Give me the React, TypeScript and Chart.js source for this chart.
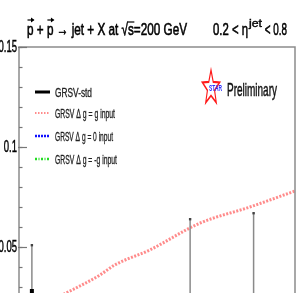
import React, { useEffect, useRef } from "react";
import { Chart, registerables } from "chart.js";

Chart.register(...registerables);

// ---- data ----
const dataPt = [6.4, 23.6, 30.5];
const dataAll = [0.028, 0.004, 0.0];
const dataErr = [0.023, 0.06, 0.067];

const curvePt = [9.5, 13.8, 15.4, 19.2, 24.7, 30.1, 35.0];
const curveGGInput = [0.0255, 0.036, 0.041, 0.0485, 0.062, 0.07, 0.078];

const yTickValues = [0.05, 0.1, 0.15];
const yTickLabels = ["0.05", "0.1", "0.15"];
const yMinorStep = 0.01;

const legendLabels = [
  "GRSV-std",
  "GRSV \u0394 g = g input",
  "GRSV \u0394 g = 0 input",
  "GRSV \u0394 g = -g input",
];
const titleLeft = "p + p \u2192 jet + X at \u221As=200 GeV";
const titleRightA = "0.2 < \u03B7";
const titleRightSup = "jet";
const titleRightB = " < 0.8";
const prelimText = "Preliminary";
const starText = "STAR";

const FONT = '"Liberation Sans", Arial, sans-serif';

function fitText(ctx: CanvasRenderingContext2D, s: string, x: number, y: number, size: number, width: number, color = "#000", bold = false, stroke = 0) {
  ctx.save();
  ctx.font = `${bold ? "bold " : ""}${size}px ${FONT}`;
  const w = ctx.measureText(s).width;
  const sx = width / w;
  ctx.fillStyle = color;
  ctx.strokeStyle = color;
  ctx.textAlign = "left";
  ctx.textBaseline = "alphabetic";
  ctx.translate(x, y);
  ctx.scale(sx, 1);
  ctx.fillText(s, 0, 0);
  if (stroke > 0) {
    ctx.lineWidth = stroke;
    ctx.strokeText(s, 0, 0);
  }
  ctx.restore();
  return sx;
}

function scaledText(ctx: CanvasRenderingContext2D, s: string, x: number, y: number, size: number, sx: number, align: CanvasTextAlign, color = "#000") {
  ctx.save();
  ctx.font = `${size}px ${FONT}`;
  ctx.fillStyle = color;
  ctx.strokeStyle = color;
  ctx.lineWidth = 0.5;
  ctx.textAlign = align;
  ctx.textBaseline = "middle";
  ctx.translate(x, y);
  ctx.scale(sx, 1);
  ctx.fillText(s, 0, 0);
  ctx.strokeText(s, 0, 0);
  ctx.restore();
}

const decorPlugin = {
  id: "decor",
  afterDatasetsDraw(chart: any) {
    const ctx: CanvasRenderingContext2D = chart.ctx;
    const ys = chart.scales.y;
    const xs = chart.scales.x;

    // error bars
    ctx.save();
    for (let i = 0; i < dataPt.length; i++) {
      const px = xs.getPixelForValue(dataPt[i]);
      const y1 = ys.getPixelForValue(dataAll[i] + dataErr[i]);
      const y0 = ys.getPixelForValue(dataAll[i] - dataErr[i]);
      ctx.strokeStyle = "#8a8a8a";
      ctx.lineWidth = 1.5;
      ctx.beginPath();
      ctx.moveTo(px, y0);
      ctx.lineTo(px, y1);
      ctx.stroke();
      ctx.fillStyle = "#444";
      ctx.fillRect(px - 1.2, y1 - 1, 2.4, 2.4);
      const yc = ys.getPixelForValue(dataAll[i]);
      ctx.fillStyle = "#000";
      ctx.fillRect(px - 2, yc - 2, 4, 4);
    }
    ctx.restore();
  },
  afterDraw(chart: any) {
    const ctx: CanvasRenderingContext2D = chart.ctx;
    const { left, right, top, bottom } = chart.chartArea;
    const ys = chart.scales.y;

    // frame
    ctx.save();
    ctx.strokeStyle = "#8c8c8c";
    ctx.lineWidth = 1.5;
    ctx.beginPath();
    ctx.moveTo(left, bottom + 2);
    ctx.lineTo(left, top);
    ctx.lineTo(right, top);
    ctx.lineTo(right, bottom + 2);
    ctx.stroke();

    // ticks
    ctx.strokeStyle = "#777";
    ctx.lineWidth = 1.2;
    for (let v = 0.03; v <= 0.1501; v += yMinorStep) {
      const py = Math.round(ys.getPixelForValue(v)) + 0.5;
      ctx.beginPath();
      ctx.moveTo(left, py);
      ctx.lineTo(left + 3.5, py);
      ctx.stroke();
    }
    for (const v of yTickValues) {
      const py = Math.round(ys.getPixelForValue(v)) + 0.5;
      ctx.beginPath();
      ctx.moveTo(left - 1, py);
      ctx.lineTo(left + 8, py);
      ctx.stroke();
    }
    ctx.restore();

    yTickValues.forEach((v, i) => {
      scaledText(ctx, yTickLabels[i], left - 2, ys.getPixelForValue(v), 17, 0.56, "right", "#000");
    });

    // title
    ctx.save();
    const sx = fitText(ctx, titleLeft, 27, 35, 17, 160, "#000", false, 0.6);
    ctx.font = `17px ${FONT}`;
    const wp = ctx.measureText("p").width * sx;
    const p2 = ctx.measureText("p + ").width * sx;
    const sq = ctx.measureText("p + p \u2192 jet + X at \u221A").width * sx;
    const sw = ctx.measureText("s").width * sx;
    ctx.strokeStyle = "#000";
    ctx.fillStyle = "#000";
    ctx.lineWidth = 1.2;
    for (const ox of [0, p2]) {
      const ax = 27 + ox;
      ctx.beginPath();
      ctx.moveTo(ax + 0.5, 20);
      ctx.lineTo(ax + wp, 20);
      ctx.stroke();
      ctx.beginPath();
      ctx.moveTo(ax + wp + 1, 20);
      ctx.lineTo(ax + wp - 2.5, 17.5);
      ctx.lineTo(ax + wp - 2.5, 22.5);
      ctx.closePath();
      ctx.fill();
    }
    ctx.beginPath();
    ctx.moveTo(27 + sq - 0.5, 22);
    ctx.lineTo(27 + sq + sw + 0.5, 22);
    ctx.stroke();
    ctx.restore();

    fitText(ctx, titleRightA, 213, 35, 17, 35, "#000", false, 0.6);
    fitText(ctx, titleRightSup, 249, 27, 11, 13, "#000", false, 0.4);
    fitText(ctx, titleRightB, 262, 35, 17, 25, "#000", false, 0.6);

    // legend
    const rowsY = [92, 113, 136, 159];
    const widths = [37, 60, 58, 62];
    ctx.save();
    ctx.strokeStyle = "#000";
    ctx.lineWidth = 3;
    ctx.beginPath();
    ctx.moveTo(35, rowsY[0]);
    ctx.lineTo(50, rowsY[0]);
    ctx.stroke();
    ctx.strokeStyle = "rgba(255,110,110,0.8)";
    ctx.lineWidth = 2;
    ctx.setLineDash([1.5, 1.5]);
    ctx.beginPath();
    ctx.moveTo(35, rowsY[1]);
    ctx.lineTo(50, rowsY[1]);
    ctx.stroke();
    ctx.strokeStyle = "#1010ff";
    ctx.lineWidth = 2.5;
    ctx.setLineDash([2, 1]);
    ctx.beginPath();
    ctx.moveTo(35, rowsY[2]);
    ctx.lineTo(50, rowsY[2]);
    ctx.stroke();
    ctx.strokeStyle = "#22dd22";
    ctx.lineWidth = 2.5;
    ctx.setLineDash([2, 1.5, 1, 1.5]);
    ctx.beginPath();
    ctx.moveTo(35, rowsY[3]);
    ctx.lineTo(50, rowsY[3]);
    ctx.stroke();
    ctx.restore();
    legendLabels.forEach((s, i) => {
      fitText(ctx, s, 55, rowsY[i] + 4.5, 12, widths[i], "#222", false, 0.3);
    });

    // STAR logo
    ctx.save();
    ctx.translate(211, 86);
    ctx.scale(0.5, 1);
    ctx.strokeStyle = "#ff1a1a";
    ctx.lineWidth = 2.2;
    ctx.beginPath();
    for (let k = 0; k < 10; k++) {
      const r = k % 2 === 0 ? 18 : 7.5;
      const a = -Math.PI / 2 + (k * Math.PI) / 5;
      const x = r * Math.cos(a);
      const y = r * Math.sin(a) + 2;
      if (k === 0) ctx.moveTo(x, y);
      else ctx.lineTo(x, y);
    }
    ctx.closePath();
    ctx.stroke();
    ctx.restore();
    fitText(ctx, starText, 209, 91, 9, 13, "#2a2aff", true);

    fitText(ctx, prelimText, 227, 96, 19, 50, "#111", false, 0.5);
  },
};

export default function App() {
  const ref = useRef<HTMLCanvasElement | null>(null);
  useEffect(() => {
    if (!ref.current) return;
    const chart = new Chart(ref.current, {
      type: "scatter",
      data: {
        datasets: [
          {
            label: legendLabels[0],
            data: [],
            showLine: true,
            borderColor: "#000",
            borderWidth: 3,
            pointRadius: 0,
          },
          {
            label: legendLabels[1],
            data: curvePt.map((x, i) => ({ x, y: curveGGInput[i] })),
            showLine: true,
            borderColor: "rgba(255,100,100,0.75)",
            borderWidth: 3,
            borderDash: [2, 1.5],
            pointRadius: 0,
            cubicInterpolationMode: "monotone",
          } as any,
          {
            label: legendLabels[2],
            data: [],
            showLine: true,
            borderColor: "#1010ff",
            borderWidth: 3,
            pointRadius: 0,
          },
          {
            label: legendLabels[3],
            data: [],
            showLine: true,
            borderColor: "#22dd22",
            borderWidth: 3,
            pointRadius: 0,
          },
          {
            label: "data",
            data: dataPt.map((x, i) => ({ x, y: dataAll[i] })),
            pointRadius: 0,
          },
        ],
      },
      options: {
        responsive: false,
        animation: false,
        layout: { padding: { left: 19, top: 47, right: 5, bottom: 0 } },
        plugins: { legend: { display: false }, tooltip: { enabled: false }, title: { display: false } },
        scales: {
          x: { type: "linear", min: 5, max: 35, display: false },
          y: { type: "linear", min: 0.027, max: 0.15, display: false },
        },
      },
      plugins: [decorPlugin],
    });
    return () => chart.destroy();
  }, []);
  return (
    <div style={{ position: "fixed", left: 0, top: 0, width: 300, height: 293, background: "#fff" }}>
      <canvas ref={ref} width={300} height={293} />
    </div>
  );
}
